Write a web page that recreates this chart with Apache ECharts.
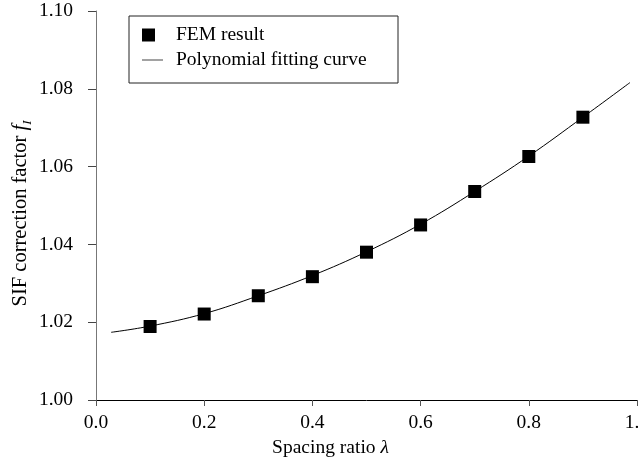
<!DOCTYPE html>
<html>
<head>
<meta charset="utf-8">
<script src="https://cdn.jsdelivr.net/npm/echarts@6/dist/echarts.min.js"></script>
<style>
html,body{margin:0;padding:0;background:#fff;}
#c{width:638px;height:466px;}
</style>
</head>
<body>
<div id="c"></div>
<script>
// FEM result points (spacing ratio, SIF correction factor)
const femX = [0.1, 0.2, 0.3, 0.4, 0.5, 0.6, 0.7, 0.8, 0.9];
const femY = [1.0189, 1.0221, 1.0268, 1.0317, 1.0380, 1.0450, 1.0536, 1.0626, 1.0727];
// Polynomial fitting curve
const fitX = [0.028, 0.1, 0.2, 0.3, 0.4, 0.5, 0.6, 0.7, 0.8, 0.9, 0.987];
const fitY = [1.0174, 1.0190, 1.0222, 1.0268, 1.0320, 1.0381, 1.0452, 1.0536, 1.0627, 1.0727, 1.0816];
const xTicks = [0.0, 0.2, 0.4, 0.6, 0.8, 1.0];
const yTicks = [1.00, 1.02, 1.04, 1.06, 1.08, 1.10];

const FONT = "'Liberation Serif','Times New Roman',serif";
const FS = 19.5;
const FSN = 20.5;

const chart = echarts.init(document.getElementById('c'), null, {renderer: 'canvas'});
chart.setOption({
  animation: false,
  backgroundColor: '#fff',
  textStyle: {fontFamily: FONT, color: '#000'},
  grid: {left: 96, right: 1, top: 11, bottom: 66, containLabel: false, outerBoundsMode: 'none'},
  xAxis: {
    type: 'value', min: xTicks[0], max: xTicks[xTicks.length - 1], interval: 0.2,
    axisLine: {lineStyle: {color: '#000', width: 1}},
    axisTick: {inside: false, length: 6, lineStyle: {color: '#555'}},
    splitLine: {show: false},
    axisLabel: {margin: 13, fontFamily: FONT, fontSize: FS, color: '#000',
      formatter: v => v.toFixed(1), showMaxLabel: true, hideOverlap: false},
    name: '{a|Spacing ratio }{b|λ}',
    nameLocation: 'middle', nameGap: 38, nameMoveOverlap: false,
    nameTextStyle: {padding: [0, 72, 0, 0],
      rich: {a: {fontFamily: FONT, fontSize: FS, color: '#000'},
             b: {fontFamily: FONT, fontSize: FS, fontStyle: 'italic', color: '#000'}}}
  },
  yAxis: {
    type: 'value', min: yTicks[0], max: yTicks[yTicks.length - 1], interval: 0.02,
    axisLine: {show: true, lineStyle: {color: '#777', width: 1}},
    axisTick: {show: true, inside: false, length: 8, lineStyle: {color: '#444'}},
    splitLine: {show: false},
    axisLabel: {margin: 23, fontFamily: FONT, fontSize: FS, color: '#000',
      formatter: v => v.toFixed(2)},
    name: '{a|SIF correction factor }{b|f}{c|I}',
    nameLocation: 'middle', nameGap: 62, nameRotate: 90, nameMoveOverlap: false,
    nameTextStyle: {padding: [0, 16, 0, 0],
      rich: {a: {fontFamily: FONT, fontSize: FSN, color: '#000'},
             b: {fontFamily: FONT, fontSize: FSN, fontStyle: 'italic', color: '#000'},
             c: {fontFamily: FONT, fontSize: 13, fontStyle: 'italic', color: '#000',
                 verticalAlign: 'bottom', lineHeight: 27}}}
  },
  legend: [
    {data: [{name: 'FEM result', icon: 'rect'}], left: 142, top: 25, padding: 0,
     itemWidth: 13, itemHeight: 13,
     textStyle: {fontFamily: FONT, fontSize: FS, color: '#000', padding: [0, 0, 0, 16]}},
    {data: [{name: 'Polynomial fitting curve', icon: 'rect',
             itemStyle: {color: '#444'}}], left: 142, top: 50, padding: 0,
     itemWidth: 21, itemHeight: 1,
     textStyle: {fontFamily: FONT, fontSize: FS, color: '#000', padding: [0, 0, 0, 8]}}
  ],
  graphic: [{
    type: 'rect', left: 126.5, top: 13.5, z: 100, silent: true,
    shape: {x: 0, y: 0, width: 269, height: 67},
    style: {fill: 'none', stroke: '#222', lineWidth: 1}
  }],
  series: [
    {name: 'Polynomial fitting curve', type: 'line', smooth: 0.4,
     data: fitX.map((x, i) => [x, fitY[i]]),
     showSymbol: false, symbol: 'none',
     lineStyle: {color: '#000', width: 1}, itemStyle: {color: '#000'}, z: 2},
    {name: 'FEM result', type: 'scatter', symbol: 'rect', symbolSize: 13,
     data: femX.map((x, i) => [x, femY[i]]),
     itemStyle: {color: '#000', opacity: 1}, z: 3}
  ]
});
</script>
</body>
</html>
